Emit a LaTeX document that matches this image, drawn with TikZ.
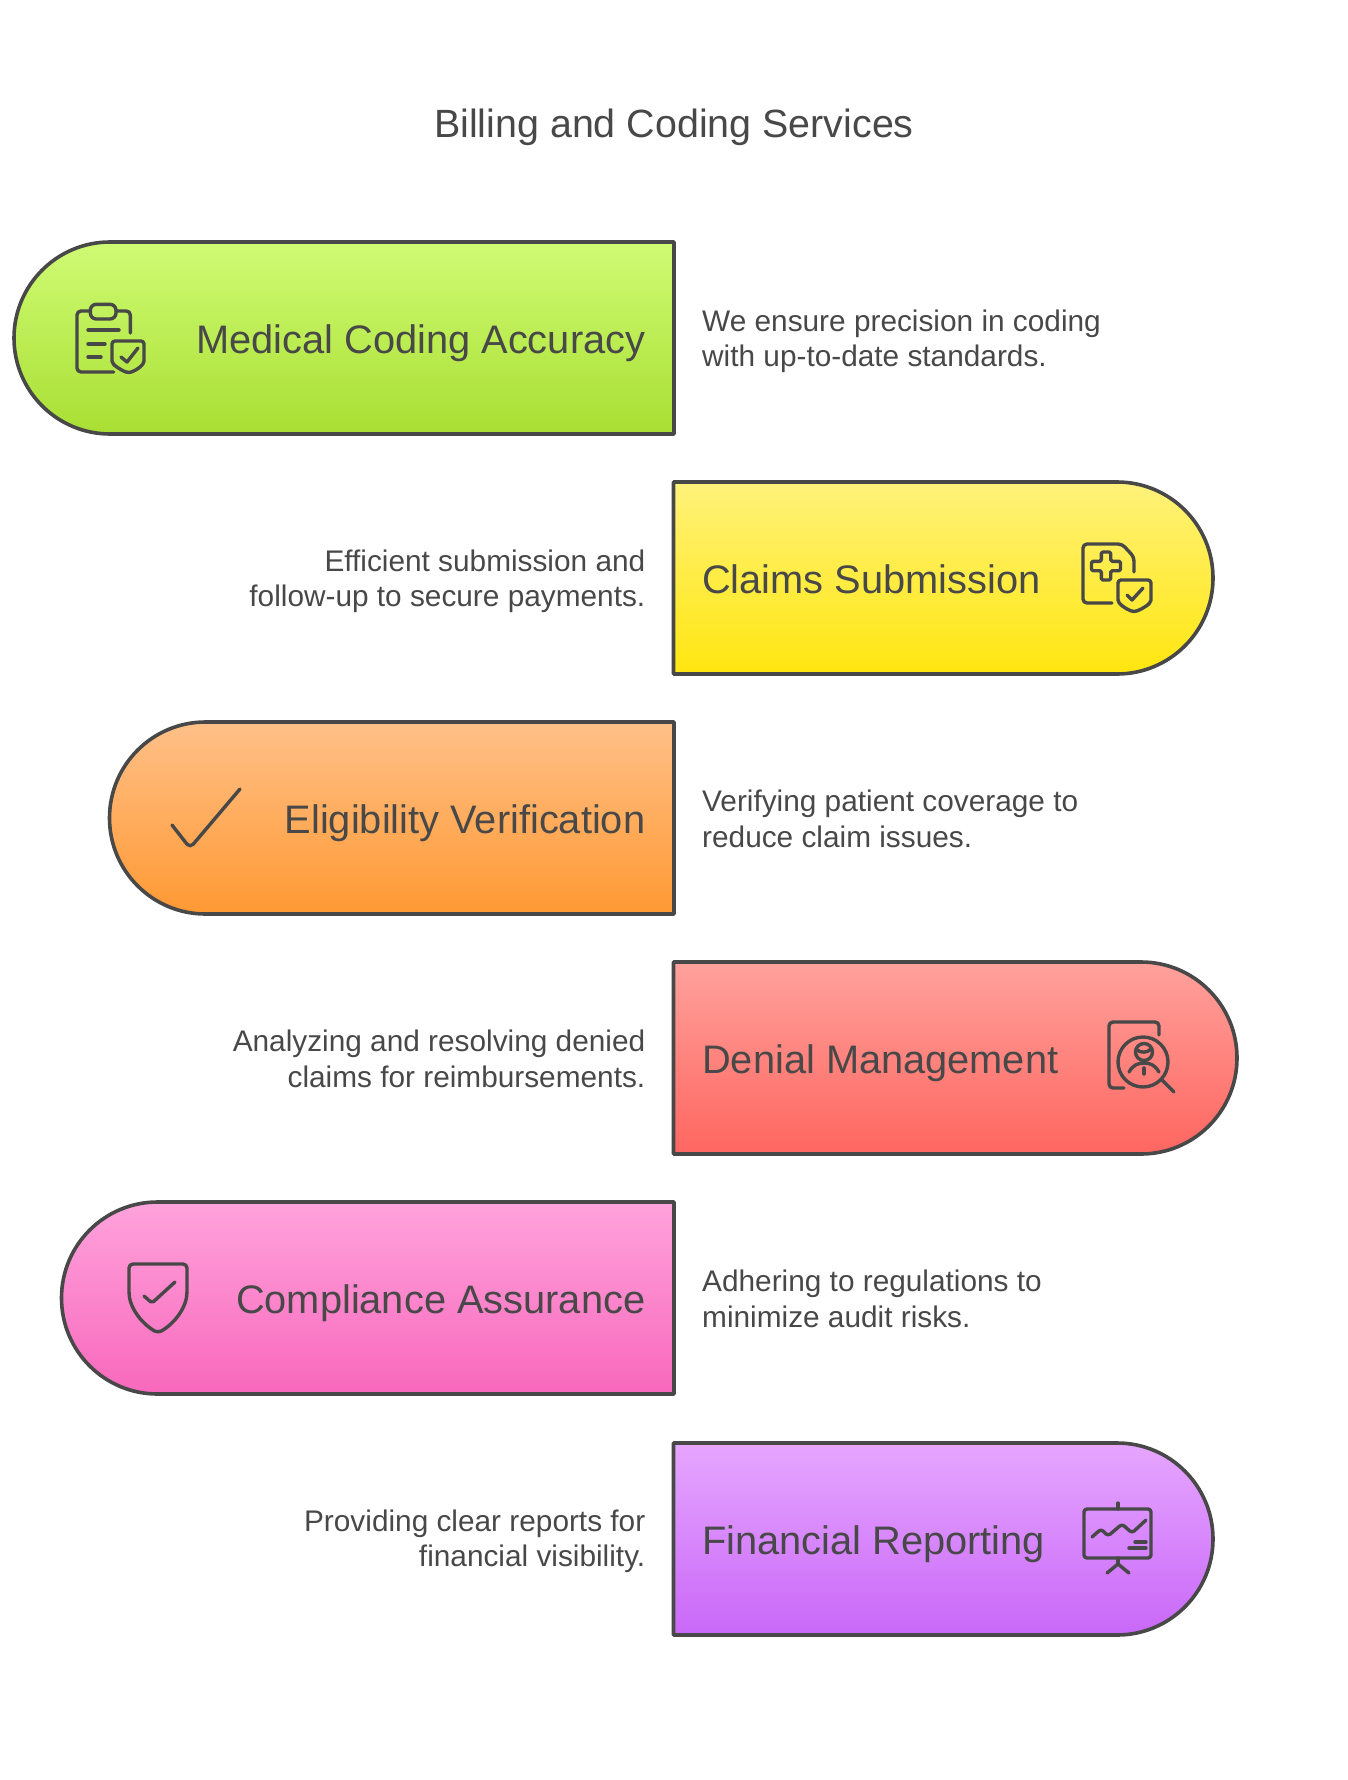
\documentclass[tikz,border=0pt]{standalone}
\usepackage{fontspec}
\setmainfont{Liberation Sans}
\usepackage{tikz}
\definecolor{inkgray}{HTML}{484848}
\definecolor{greentop}{HTML}{CFFB74}
\definecolor{greenbot}{HTML}{A9DF33}
\definecolor{yellowtop}{HTML}{FFF27A}
\definecolor{yellowbot}{HTML}{FFE60F}
\definecolor{orangetop}{HTML}{FFC088}
\definecolor{orangebot}{HTML}{FF9933}
\definecolor{redtop}{HTML}{FFA19C}
\definecolor{redbot}{HTML}{FF6660}
\definecolor{pinktop}{HTML}{FFA3DC}
\definecolor{pinkbot}{HTML}{F868BC}
\definecolor{purpletop}{HTML}{E6A6FF}
\definecolor{purplebot}{HTML}{C968F8}
\tikzset{
  bar/.style 2 args={draw=inkgray,line width=3.6pt,line join=round,top color=#1,bottom color=#2},
  barlabel/.style={text=inkgray,font=\fontsize{39.8}{40}\selectfont,inner sep=0pt},
  desc/.style={text=inkgray,font=\fontsize{29.8}{35.5}\selectfont,inner sep=0pt},
  icon/.style={draw=inkgray,line width=3.4pt,line cap=round,line join=round}
}
\begin{document}
\begin{tikzpicture}[x=1pt,y=-1pt]
\useasboundingbox (0,0) rectangle (1348,1780);
\node[text=inkgray,font=\fontsize{39.4}{40}\selectfont,inner sep=0pt] (title) at (674,127.5) {Billing and Coding Services};
% bars
\draw[bar={greentop}{greenbot}] (674,242) -- (110,242) arc[start angle=-90,end angle=-270,radius=96] -- (674,434) -- cycle;
\draw[bar={yellowtop}{yellowbot}] (673.5,482) -- (1117,482) arc[start angle=-90,end angle=90,radius=96] -- (673.5,674) -- cycle;
\draw[bar={orangetop}{orangebot}] (674,722) -- (205.5,722) arc[start angle=-90,end angle=-270,radius=96] -- (674,914) -- cycle;
\draw[bar={redtop}{redbot}] (673.5,962) -- (1141,962) arc[start angle=-90,end angle=90,radius=96] -- (673.5,1154) -- cycle;
\draw[bar={pinktop}{pinkbot}] (674,1202) -- (157.5,1202) arc[start angle=-90,end angle=-270,radius=96] -- (674,1394) -- cycle;
\draw[bar={purpletop}{purplebot}] (673.5,1443) -- (1117,1443) arc[start angle=-90,end angle=90,radius=96] -- (673.5,1635) -- cycle;
% bar labels
\node[barlabel,anchor=base east] (coding) at (645.5,353.5) {Medical Coding Accuracy};
\node[barlabel,anchor=base west] (claims) at (702,593.5) {Claims Submission};
\node[barlabel,anchor=base east] (eligibility) at (645.5,833.5) {Eligibility Verification};
\node[barlabel,anchor=base west] (denial) at (702,1073.5) {Denial Management};
\node[barlabel,anchor=base east] (compliance) at (645.5,1313.5) {Compliance Assurance};
\node[barlabel,anchor=base west] (financial) at (702,1554) {Financial Reporting};
% descriptions
\node[desc,anchor=west,align=left] (codingtext) at (702,341.4) {We ensure precision in coding\\with up-to-date standards.};
\node[desc,anchor=east,align=right] (claimstext) at (645.5,581.3) {Efficient submission and\\follow-up to secure payments.};
\node[desc,anchor=west,align=left] (eligibilitytext) at (702,819) {Verifying patient coverage to\\reduce claim issues.};
\node[desc,anchor=east,align=right] (denialtext) at (645.5,1059) {Analyzing and resolving denied\\claims for reimbursements.};
\node[desc,anchor=west,align=left] (compliancetext) at (702,1299) {Adhering to regulations to\\minimize audit risks.};
\node[desc,anchor=east,align=right] (financialtext) at (645.5,1541.3) {Providing clear reports for\\financial visibility.};
% clipboard icon
\begin{scope}[shift={(1,1)}]
\draw[icon,rounded corners=4pt] (129.3,332) -- (129.3,310) -- (115,310);
\draw[icon,rounded corners=4pt] (89.3,310) -- (76,310) -- (76,371) -- (112.7,371);
\draw[icon,rounded corners=6pt] (89.3,303.3) rectangle (115,318);
\draw[icon] (87,329) -- (118,329);
\draw[icon] (87,343) -- (104,343);
\draw[icon] (87,356) -- (100,356);
\draw[icon,rounded corners=3pt] (111,340) -- (143,340) -- (143,357) .. controls (143,364) and (136,369) .. (127.5,372) .. controls (120,369) and (111,364) .. (111,357) -- cycle;
\draw[icon] (120,356) -- (126,361) -- (137,347);
\end{scope}
% document icon
\begin{scope}[shift={(-1,0)}]
\draw[icon,rounded corners=4pt] (1135,572) -- (1135,557) -- (1123,544) -- (1084,544) -- (1084,603) -- (1113,603);
\draw[icon,rounded corners=1.5pt] (1102.3,552) -- (1111.7,552) -- (1111.7,561.3) -- (1121.5,561.3) -- (1121.5,570.7) -- (1111.7,570.7) -- (1111.7,580) -- (1102.3,580) -- (1102.3,570.7) -- (1092.5,570.7) -- (1092.5,561.3) -- (1102.3,561.3) -- cycle;
\draw[icon,rounded corners=3pt] (1119,580) -- (1152,580) -- (1152,597) .. controls (1152,604) and (1143,609) .. (1135,612) .. controls (1127,609) and (1119,604) .. (1119,597) -- cycle;
\draw[icon] (1128,595) -- (1133,600) -- (1144,588);
\end{scope}
% check icon
\draw[icon,rounded corners=5pt] (172,825) -- (190,848) -- (240,789);
% magnifier icon
\draw[icon,rounded corners=4pt] (1159,1035) -- (1159,1022) -- (1109,1022) -- (1109,1088) -- (1124,1088);
\draw[icon] (1143,1062) circle[radius=25];
\draw[icon] (1162,1080) -- (1174,1092);
\draw[icon] (1144,1052) circle[radius=8.5];
\draw[icon] (1137,1050) .. controls (1141,1053) and (1147,1053) .. (1151,1049);
\draw[icon] (1129,1072) .. controls (1133,1065) and (1138,1063) .. (1144,1063) .. controls (1150,1063) and (1155,1065) .. (1159,1072);
\draw[icon] (1144,1068) -- (1144,1074);
% shield icon
\draw[icon,rounded corners=4pt] (129,1264) -- (187,1264) -- (187,1288) .. controls (187,1307) and (175,1323) .. (158,1333) .. controls (141,1323) and (129,1307) .. (129,1288) -- cycle;
\draw[icon,rounded corners=2pt] (144,1296) -- (152,1303) -- (175,1282);
% chart icon
\draw[icon,rounded corners=3pt] (1084,1509) rectangle (1151,1558);
\draw[icon] (1118,1503) -- (1118,1509);
\draw[icon] (1118,1558) -- (1118,1564);
\draw[icon] (1107,1573) -- (1118,1564) -- (1129,1573);
\draw[icon,rounded corners=3pt] (1092,1537) -- (1101,1529) -- (1108,1536) -- (1122,1524) -- (1132,1533) -- (1146,1520);
\draw[icon] (1135,1542) -- (1146,1542);
\draw[icon] (1129,1548) -- (1146,1548);
\end{tikzpicture}
\end{document}
